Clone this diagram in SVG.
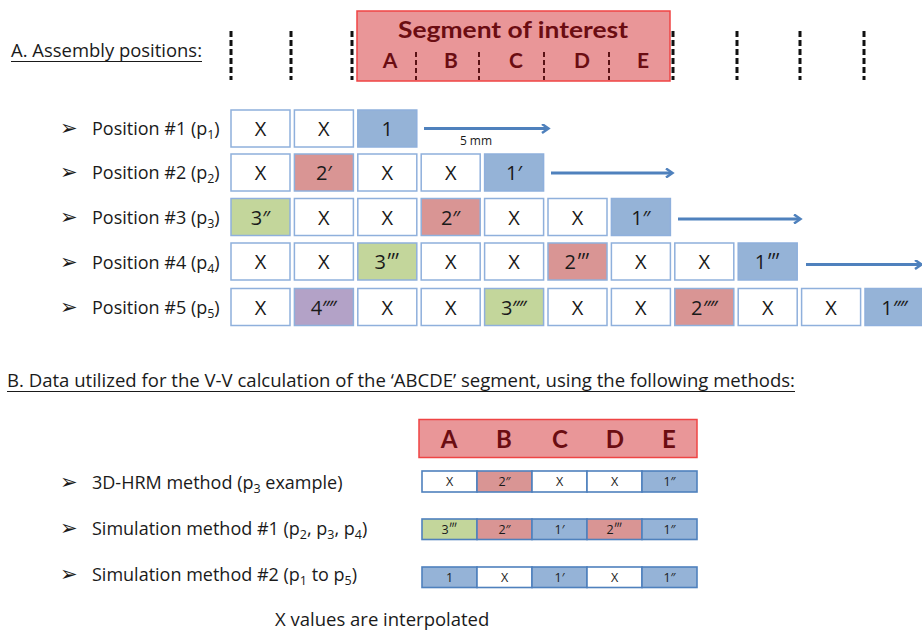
<svg xmlns="http://www.w3.org/2000/svg" width="922" height="631" viewBox="0 0 922 631">
<defs>
<style>
.t{font-family:"Open Sans",Lato,"DejaVu Sans",sans-serif;fill:#1a1a1a}
.lbl{font-size:18px}
.bul{font-family:"DejaVu Sans",sans-serif;font-size:21px;fill:#1a1a1a}
.bx{stroke:#8fb0dc;stroke-width:1.5}
.w{fill:#ffffff}
.b{fill:#95b3d7}
.r{fill:#d99594}
.g{fill:#c3d69b}
.p{fill:#b3a2c7}
.bt{font-family:"Open Sans",Lato,sans-serif;font-size:20px;fill:#1a1a1a;text-anchor:middle}
.st{font-family:"Open Sans",Lato,sans-serif;font-size:12.5px;fill:#1a1a1a;text-anchor:middle}
.sb{stroke:#4f81bd;stroke-width:1.6}
.hd{font-family:Lato,"Open Sans","DejaVu Sans",sans-serif;font-weight:bold;fill:#6b0d12;text-anchor:middle}
.dash{stroke:#111;stroke-width:3;stroke-dasharray:6 3}
.idash{stroke:#5a1215;stroke-width:2;stroke-dasharray:5 3}
.arr{stroke:#4f81bd;stroke-width:3;fill:none;marker-end:url(#ah)}
</style>
<marker id="ah" markerWidth="10" markerHeight="10" refX="7" refY="5" orient="auto" markerUnits="userSpaceOnUse">
<polyline points="1,0.5 7.5,5 1,9.5" fill="none" stroke="#4f81bd" stroke-width="2.5"/>
</marker>
</defs>
<rect width="922" height="631" fill="#ffffff"/>

<!-- Section A header -->
<g id="headerA">
<text class="t" x="11" y="57" font-size="18" textLength="191" lengthAdjust="spacingAndGlyphs">A. Assembly positions:</text>
<line x1="11" y1="61.5" x2="202" y2="61.5" stroke="#1a1a1a" stroke-width="1.2"/>
</g>

<!-- dashed position markers -->
<g id="markers">
<line class="dash" x1="231" y1="31" x2="231" y2="80"/>
<line class="dash" x1="291" y1="31" x2="291" y2="80"/>
<line class="dash" x1="352" y1="31" x2="352" y2="80"/>
<line class="dash" x1="673" y1="31" x2="673" y2="80"/>
<line class="dash" x1="737" y1="31" x2="737" y2="80"/>
<line class="dash" x1="800" y1="31" x2="800" y2="80"/>
<line class="dash" x1="864" y1="31" x2="864" y2="80"/>
</g>

<!-- Segment of interest -->
<g id="segment">
<rect x="357" y="11" width="313" height="70" fill="#e99698" stroke="#ef4444" stroke-width="1.5"/>
<text class="hd" x="513" y="38" font-size="22" textLength="230" lengthAdjust="spacingAndGlyphs">Segment of interest</text>
<text class="hd" x="390" y="68" font-size="21">A</text>
<text class="hd" x="451" y="68" font-size="21">B</text>
<text class="hd" x="516" y="68" font-size="21">C</text>
<text class="hd" x="582" y="68" font-size="21">D</text>
<text class="hd" x="643" y="68" font-size="21">E</text>
<line class="idash" x1="416" y1="52" x2="416" y2="80"/>
<line class="idash" x1="479" y1="52" x2="479" y2="80"/>
<line class="idash" x1="544" y1="52" x2="544" y2="80"/>
<line class="idash" x1="609" y1="52" x2="609" y2="80"/>
</g>

<!-- Position #1 -->
<g id="pos1">
<text class="bul" x="60" y="135">➢</text>
<text class="t lbl" x="92" y="135">Position #1 (p<tspan font-size="12.5" dy="4">1</tspan><tspan dy="-4">)</tspan></text>
<rect class="bx w" x="231" y="110" width="59" height="37"/><text class="bt" x="260.5" y="136">X</text>
<rect class="bx w" x="294.4" y="110" width="59" height="37"/><text class="bt" x="323.9" y="136">X</text>
<rect class="bx b" x="357.8" y="110" width="59" height="37"/><text class="bt" x="387.3" y="136">1</text>
</g>

<!-- Position #2 -->
<g id="pos2">
<text class="bul" x="60" y="179">➢</text>
<text class="t lbl" x="92" y="179">Position #2 (p<tspan font-size="12.5" dy="4">2</tspan><tspan dy="-4">)</tspan></text>
<rect class="bx w" x="231" y="154" width="59" height="37"/><text class="bt" x="260.5" y="180">X</text>
<rect class="bx r" x="294.4" y="154" width="59" height="37"/><text class="bt" x="323.9" y="180">2′</text>
<rect class="bx w" x="357.8" y="154" width="59" height="37"/><text class="bt" x="387.3" y="180">X</text>
<rect class="bx w" x="421.2" y="154" width="59" height="37"/><text class="bt" x="450.7" y="180">X</text>
<rect class="bx b" x="484.6" y="154" width="59" height="37"/><text class="bt" x="514.1" y="180">1′</text>
</g>

<!-- Position #3 -->
<g id="pos3">
<text class="bul" x="60" y="224">➢</text>
<text class="t lbl" x="92" y="224">Position #3 (p<tspan font-size="12.5" dy="4">3</tspan><tspan dy="-4">)</tspan></text>
<rect class="bx g" x="231" y="198.5" width="59" height="37"/><text class="bt" x="260.5" y="224.5">3″</text>
<rect class="bx w" x="294.4" y="198.5" width="59" height="37"/><text class="bt" x="323.9" y="224.5">X</text>
<rect class="bx w" x="357.8" y="198.5" width="59" height="37"/><text class="bt" x="387.3" y="224.5">X</text>
<rect class="bx r" x="421.2" y="198.5" width="59" height="37"/><text class="bt" x="450.7" y="224.5">2″</text>
<rect class="bx w" x="484.6" y="198.5" width="59" height="37"/><text class="bt" x="514.1" y="224.5">X</text>
<rect class="bx w" x="548" y="198.5" width="59" height="37"/><text class="bt" x="577.5" y="224.5">X</text>
<rect class="bx b" x="611.4" y="198.5" width="59" height="37"/><text class="bt" x="640.9" y="224.5">1″</text>
</g>

<!-- Position #4 -->
<g id="pos4">
<text class="bul" x="60" y="268.5">➢</text>
<text class="t lbl" x="92" y="268.5">Position #4 (p<tspan font-size="12.5" dy="4">4</tspan><tspan dy="-4">)</tspan></text>
<rect class="bx w" x="231" y="243" width="59" height="37"/><text class="bt" x="260.5" y="269">X</text>
<rect class="bx w" x="294.4" y="243" width="59" height="37"/><text class="bt" x="323.9" y="269">X</text>
<rect class="bx g" x="357.8" y="243" width="59" height="37"/><text class="bt" x="387.3" y="269">3‴</text>
<rect class="bx w" x="421.2" y="243" width="59" height="37"/><text class="bt" x="450.7" y="269">X</text>
<rect class="bx w" x="484.6" y="243" width="59" height="37"/><text class="bt" x="514.1" y="269">X</text>
<rect class="bx r" x="548" y="243" width="59" height="37"/><text class="bt" x="577.5" y="269">2‴</text>
<rect class="bx w" x="611.4" y="243" width="59" height="37"/><text class="bt" x="640.9" y="269">X</text>
<rect class="bx w" x="674.8" y="243" width="59" height="37"/><text class="bt" x="704.3" y="269">X</text>
<rect class="bx b" x="738.2" y="243" width="59" height="37"/><text class="bt" x="767.7" y="269">1‴</text>
</g>

<!-- Position #5 -->
<g id="pos5">
<text class="bul" x="60" y="314">➢</text>
<text class="t lbl" x="92" y="314">Position #5 (p<tspan font-size="12.5" dy="4">5</tspan><tspan dy="-4">)</tspan></text>
<rect class="bx w" x="231" y="288.5" width="59" height="37"/><text class="bt" x="260.5" y="314.5">X</text>
<rect class="bx p" x="294.4" y="288.5" width="59" height="37"/><text class="bt" x="323.9" y="314.5">4⁗</text>
<rect class="bx w" x="357.8" y="288.5" width="59" height="37"/><text class="bt" x="387.3" y="314.5">X</text>
<rect class="bx w" x="421.2" y="288.5" width="59" height="37"/><text class="bt" x="450.7" y="314.5">X</text>
<rect class="bx g" x="484.6" y="288.5" width="59" height="37"/><text class="bt" x="514.1" y="314.5">3⁗</text>
<rect class="bx w" x="548" y="288.5" width="59" height="37"/><text class="bt" x="577.5" y="314.5">X</text>
<rect class="bx w" x="611.4" y="288.5" width="59" height="37"/><text class="bt" x="640.9" y="314.5">X</text>
<rect class="bx r" x="674.8" y="288.5" width="59" height="37"/><text class="bt" x="704.3" y="314.5">2⁗</text>
<rect class="bx w" x="738.2" y="288.5" width="59" height="37"/><text class="bt" x="767.7" y="314.5">X</text>
<rect class="bx w" x="801.6" y="288.5" width="59" height="37"/><text class="bt" x="831.1" y="314.5">X</text>
<rect class="bx b" x="865" y="288.5" width="59" height="37"/><text class="bt" x="894.5" y="314.5">1⁗</text>
</g>

<!-- connectors (shift arrows) -->
<g id="connectors">
<line class="arr" x1="424" y1="128.5" x2="548" y2="128.5"/>
<line class="arr" x1="551" y1="173" x2="672" y2="173"/>
<line class="arr" x1="678" y1="219" x2="800" y2="219"/>
<line class="arr" x1="806" y1="264.5" x2="921" y2="264.5"/>
</g>
<text class="t" x="476" y="145" font-size="12" text-anchor="middle">5 mm</text>

<!-- Section B header -->
<g id="headerB">
<text class="t" x="7" y="387" font-size="18" textLength="788" lengthAdjust="spacingAndGlyphs">B. Data utilized for the V-V calculation of the ‘ABCDE’ segment, using the following methods:</text>
<line x1="7" y1="391.5" x2="795" y2="391.5" stroke="#1a1a1a" stroke-width="1.2"/>
</g>

<!-- table header -->
<g id="tableHeader">
<rect x="419" y="419.5" width="278" height="38" fill="#e99698" stroke="#ef4444" stroke-width="1.5"/>
<text class="hd" x="449" y="448" font-size="24">A</text>
<text class="hd" x="504" y="448" font-size="24">B</text>
<text class="hd" x="560" y="448" font-size="24">C</text>
<text class="hd" x="615" y="448" font-size="24">D</text>
<text class="hd" x="669" y="448" font-size="24">E</text>
</g>

<!-- method 1 -->
<g id="method1">
<text class="bul" x="60" y="489">➢</text>
<text class="t lbl" x="92" y="489">3D-HRM method (p<tspan font-size="12.5" dy="4">3</tspan><tspan dy="-4"> example)</tspan></text>
<rect class="sb w" x="422" y="471" width="55" height="21"/><text class="st" x="449.5" y="486">X</text>
<rect class="sb r" x="477" y="471" width="55" height="21"/><text class="st" x="504.5" y="486">2″</text>
<rect class="sb w" x="532" y="471" width="55" height="21"/><text class="st" x="559.5" y="486">X</text>
<rect class="sb w" x="587" y="471" width="55" height="21"/><text class="st" x="614.5" y="486">X</text>
<rect class="sb b" x="642" y="471" width="55" height="21"/><text class="st" x="669.5" y="486">1″</text>
</g>

<!-- method 2 -->
<g id="method2">
<text class="bul" x="60" y="535">➢</text>
<text class="t lbl" x="92" y="535">Simulation method #1 (p<tspan font-size="12.5" dy="4">2</tspan><tspan dy="-4">, p</tspan><tspan font-size="12.5" dy="4">3</tspan><tspan dy="-4">, p</tspan><tspan font-size="12.5" dy="4">4</tspan><tspan dy="-4">)</tspan></text>
<rect class="sb g" x="422" y="519" width="55" height="20.5"/><text class="st" x="449.5" y="533.5">3‴</text>
<rect class="sb r" x="477" y="519" width="55" height="20.5"/><text class="st" x="504.5" y="533.5">2″</text>
<rect class="sb b" x="532" y="519" width="55" height="20.5"/><text class="st" x="559.5" y="533.5">1′</text>
<rect class="sb r" x="587" y="519" width="55" height="20.5"/><text class="st" x="614.5" y="533.5">2‴</text>
<rect class="sb b" x="642" y="519" width="55" height="20.5"/><text class="st" x="669.5" y="533.5">1″</text>
</g>

<!-- method 3 -->
<g id="method3">
<text class="bul" x="60" y="581">➢</text>
<text class="t lbl" x="92" y="581">Simulation method #2 (p<tspan font-size="12.5" dy="4">1</tspan><tspan dy="-4"> to p</tspan><tspan font-size="12.5" dy="4">5</tspan><tspan dy="-4">)</tspan></text>
<rect class="sb b" x="422" y="567" width="55" height="20.5"/><text class="st" x="449.5" y="581.5">1</text>
<rect class="sb w" x="477" y="567" width="55" height="20.5"/><text class="st" x="504.5" y="581.5">X</text>
<rect class="sb b" x="532" y="567" width="55" height="20.5"/><text class="st" x="559.5" y="581.5">1′</text>
<rect class="sb w" x="587" y="567" width="55" height="20.5"/><text class="st" x="614.5" y="581.5">X</text>
<rect class="sb b" x="642" y="567" width="55" height="20.5"/><text class="st" x="669.5" y="581.5">1″</text>
</g>

<text class="t" x="275" y="626" font-size="18.5">X values are interpolated</text>
</svg>
